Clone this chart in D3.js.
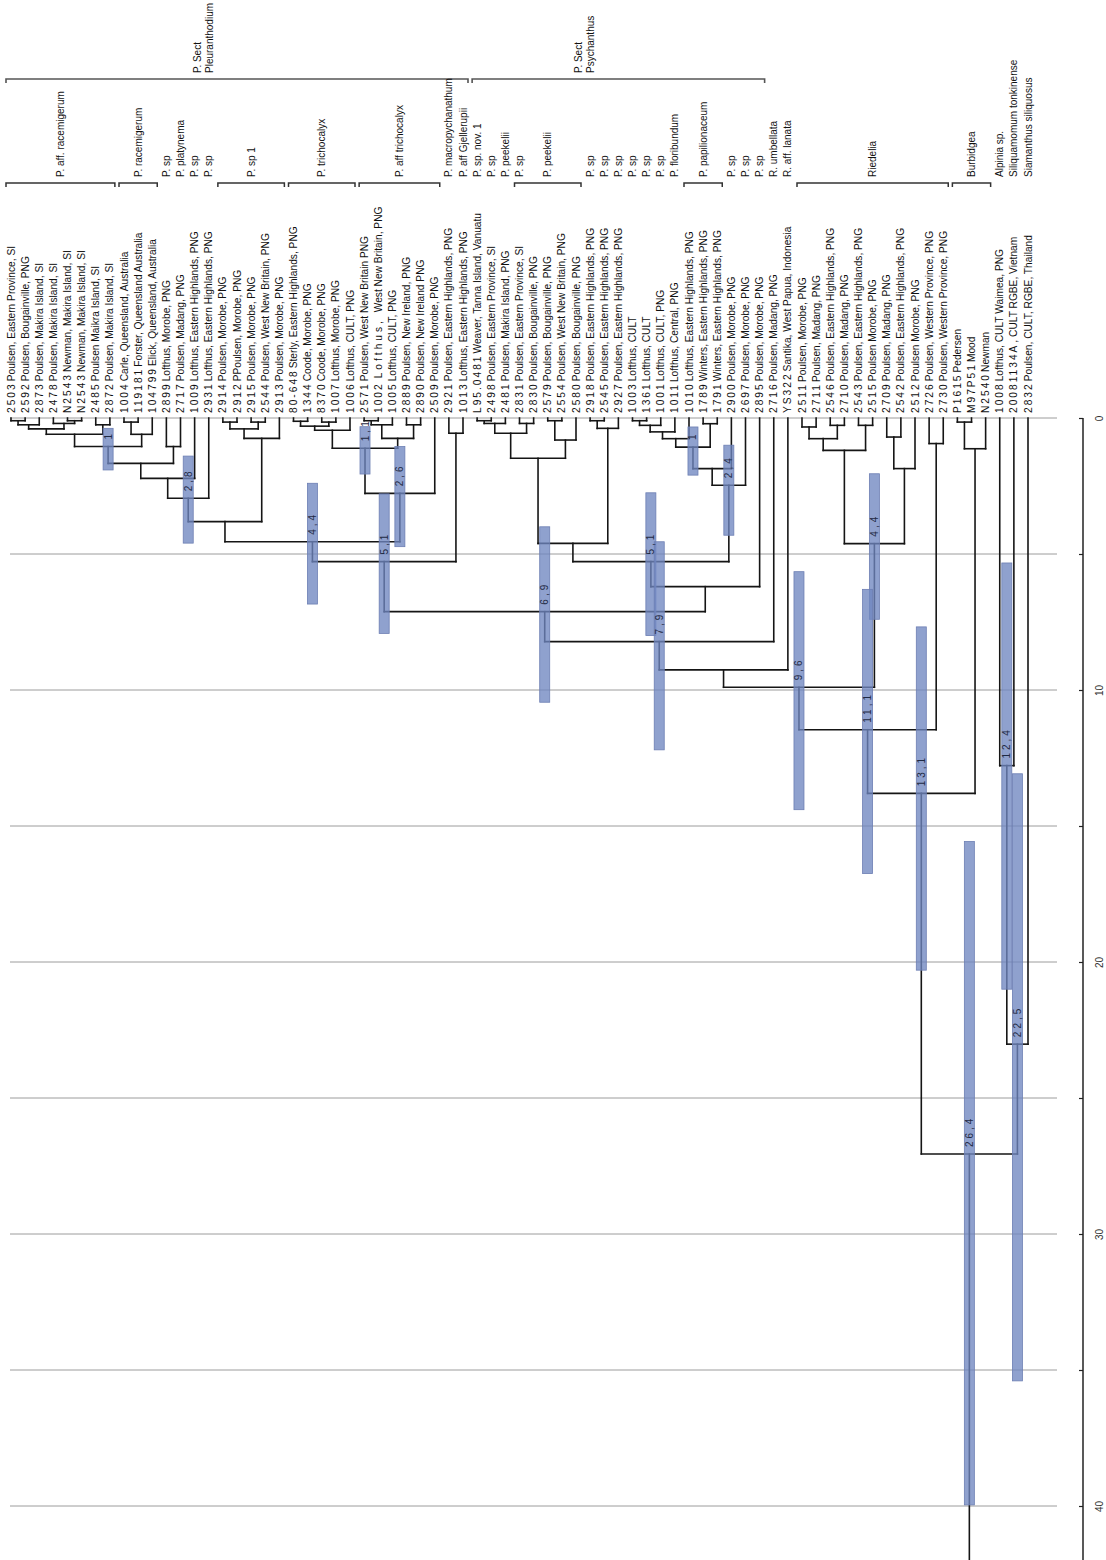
<!DOCTYPE html>
<html><head><meta charset="utf-8">
<script src="https://cdn.jsdelivr.net/npm/d3@7"></script>
<style>
body{margin:0;background:#fff}
svg{display:block;font-family:"Liberation Sans",Arial,sans-serif}
</style>
</head><body>
<svg id="c" width="1106" height="1560"></svg>
<script>
// ---------------- DATA ----------------
const tipCodes = ["2503","2592","2873","2478","N2543","N2543","2485","2872","1004","119181","104799","2899","2717","1009","2931","2914","2912","2915","2544","2913","80-648","1344","8370","1007","1006","2571","1002","1005","2889","2890","2509","2921","1013","L95.0481","2498","2481","2831","2830","2579","2554","2580","2918","2545","2927","1003","1361","1001","1011","1010","1789","1791","2900","2697","2895","2716","YS322","2511","2711","2546","2710","2543","2515","2709","2542","2512","2726","2730","P1615","M97P51","N2540","1008","20081134A","2832"];
const tipNames = ["Poulsen, Eastern Province, SI","Poulsen, Bougainville, PNG","Poulsen, Makira Island, SI","Poulsen, Makira Island, SI","Newman, Makira Island, SI","Newman, Makira Island, SI","Poulsen Maikra Island, SI","Poulsen, Makira Island, SI","Carle, Queensland, Australia","Forster, Queensland Australia","Elick, Queensland, Australia","Lofthus, Morobe, PNG","Poulsen, Madang, PNG","Lofthus, Eastern Highlands, PNG","Lofthus, Eastern Highlands, PNG","Poulsen, Morobe, PNG","PPoulsen, Morobe, PNG","Poulsen, Morobe, PNG","Poulsen, West New Britain, PNG","Poulsen, Morobe, PNG","Sterly, Eastern Highlands, PNG","Coode, Morobe, PNG","Coode, Morobe, PNG","Lofthus, Morobe, PNG","Lofthus, CULT, PNG","Poulsen, West New Britain PNG","Lofthus, West New Britain, PNG","Lofthus, CULT, PNG","Poulsen, New Ireland, PNG","Poulsen, New Ireland PNG","Poulsen, Morobe, PNG","Poulsen, Eastern Highlands, PNG","Lofthus, Eastern Highlands, PNG","Weaver, Tanna Island, Vanuatu","Poulsen, Eastern Province, SI","Poulsen, Makira Island, PNG","Poulsen, Eastern Province, SI","Poulsen, Bougainville, PNG","Poulsen, Bougainville, PNG","Poulsen, West New Britain, PNG","Poulsen, Bougainville, PNG","Poulsen, Eastern Highlands, PNG","Poulsen, Eastern Highlands, PNG","Poulsen, Eastern Highlands, PNG","Lofthus, CULT","Lofthus, CULT","Lofthus, CULT, PNG","Lofthus, Central, PNG","Lofthus, Eastern Highlands, PNG","Winters, Eastern Highlands, PNG","Winters, Eastern Highlands, PNG","Poulsen, Morobe, PNG","Poulsen, Morobe, PNG","Poulsen, Morobe, PNG","Poulsen, Madang, PNG","Santika, West Papua, Indonesia","Poulsen, Morobe, PNG","Poulsen, Madang, PNG","Poulsen, Eastern Highlands, PNG","Poulsen, Madang, PNG","Poulsen, Eastern Highlands, PNG","Poulsen Morobe, PNG","Poulsen, Madang, PNG","Poulsen, Eastern Highlands, PNG","Poulsen Morobe, PNG","Poulsen, Western Province, PNG","Poulsen, Western Province, PNG","Pedersen","Mood","Newman","Lofthus, CULT Waimea, PNG",", CULT RGBE, Vietnam","Poulsen, CULT, RGBE, Thailand"];
const spacedNameTips = [27];

// internal nodes: [id, child A, child B, age (Myr)]; numbers are tip numbers (1-based)
const nodes = [
  ["p12",1,2,0.1],["p123","p12",3,0.25],["p56",5,6,0.1],["p456",4,"p56",0.2],["p1_6","p123","p456",0.4],
  ["p78",7,8,0.25],["p1_8","p1_6","p78",0.6],["r910",9,10,0.15],["r9_11","r910",11,0.6],
  ["N1a","p1_8","r9_11",1.05],["p1213",12,13,1.05],["q1","N1a","p1213",1.67],["q2","q1",14,2.22],
  ["N28","q2",15,2.95],["s1617",16,17,0.15],["s1819",18,19,0.15],["s16_19","s1617","s1819",0.4],
  ["s16_20","s16_19",20,0.75],["q3","N28","s16_20",3.81],["t2122",21,22,0.12],["t2324",23,24,0.15],
  ["t21_24","t2122","t2324",0.3],["t21_25","t21_24",25,0.45],["a2627",26,27,0.1],["a26_28","a2627",28,0.25],
  ["a2930",29,30,0.25],["a26_30","a26_28","a2930",0.75],["N11","t21_25","a26_30",1.11],["N26","N11",31,2.77],
  ["N44a","q3","N26",4.55],["p3233",32,33,0.56],["N51a","N44a","p3233",5.28],
  ["b3435",34,35,0.1],["b34_36","b3435",36,0.2],["b3738",37,38,0.2],["b34_38","b34_36","b3738",0.56],
  ["b3940",39,40,0.1],["b39_41","b3940",41,0.81],["b34_41","b34_38","b39_41",1.48],
  ["c4243",42,43,0.1],["c42_44","c4243",44,0.38],["c34_44","b34_41","c42_44",4.61],
  ["d4546",45,46,0.1],["d45_47","d4546",47,0.27],["d45_48","d45_47",48,0.51],["d45_49","d45_48",49,0.76],
  ["d5051",50,51,0.21],["N1b","d45_49","d5051",1.07],["d52","N1b",52,1.86],["N24","d52",53,2.47],
  ["N51b","c34_44","N24",5.28],["e54","N51b",54,6.2],["N69","N51a","e54",7.12],["N79","N69",55,8.22],
  ["f56","N79",56,9.26],
  ["g5758",57,58,0.33],["g5960",59,60,0.27],["g57_60","g5758","g5960",0.76],["g6162",61,62,0.27],
  ["g57_62","g57_60","g6162",1.19],["g6364",63,64,0.7],["g63_65","g6364",65,1.86],["N44b","g57_62","g63_65",4.62],
  ["N96","f56","N44b",9.9],["h6667",66,67,0.94],["N111","N96","h6667",11.46],
  ["i6869",68,69,0.15],["i68_70","i6869",70,1.13],["N131","N111","i68_70",13.8],
  ["j7172",71,72,12.78],["N225","j7172",73,23.02],["N264","N131","N225",27.06]
];

// node-age 95% HPD bars: [node, low, high, label]
const hpdBars = [
  ["N1a",0.38,1.91,"1"],["N28",1.4,4.6,"2,8"],["N11",0.32,2.06,"1,1"],["N26",1.05,4.73,"2,6"],
  ["N44a",2.4,6.84,"4,4"],["N51a",2.79,7.92,"5,1"],["N69",4.0,10.45,"6,9"],["N51b",2.75,8.0,"5,1"],
  ["N79",4.55,12.2,"7,9"],["N1b",0.33,2.1,"1"],["N24",1.0,4.31,"2,4"],["N96",5.65,14.4,"9,6"],
  ["N44b",2.05,7.4,"4,4"],["N111",6.3,16.75,"11,1"],["N131",7.68,20.3,"13,1"],["j7172",5.33,21.0,"12,4"],
  ["N225",13.08,35.4,"22,5"],["N264",15.57,39.96,"26,4"]
];

// annotation brackets
const sectionBrackets = [["P. Sect","Pleuranthodium",1,33],["P. Sect","Psychanthus",34,54]];
const cladeBrackets = [["P. aff. racemigerum",1,8],["P. racemigerum",9,11],["P. sp 1",16,20],["P. trichocalyx",21,25],
  ["P. aff trichocalyx",26,31],["P. peekelii",37,41],["P. papilionaceum",49,51],["Riedelia",57,67],["Burbidgea",68,70]];
const singleTaxa = [[12,"P. sp"],[13,"P. platynema"],[14,"P. sp"],[15,"P. sp"],
  [32,"P. macropychanathum"],[33,"P. aff Gjellerupii"],[34,"P. sp. nov. 1"],[35,"P. sp"],[36,"P. peekelii"],[37,"P. sp"],
  [42,"P. sp"],[43,"P. sp"],[44,"P. sp"],[45,"P. sp"],[46,"P. sp"],[47,"P. sp"],[48,"P. floribundum"],
  [52,"P. sp"],[53,"P. sp"],[54,"P. sp"],[55,"R. umbellata"],[56,"R. aff. lanata"],
  [71,"Alpinia sp."],[72,"Siliquamomum tonkinense"],[73,"Siamanthus siliquosus"]];

const axisTicks = [0,5,10,15,20,25,30,35,40];
const axisLabels = ["0","10","20","30","40"];

// ---------------- DRAW ----------------
const svg = d3.select("#c");
const x = d3.scaleLinear().domain([1,73]).range([11,1028]);
const y = d3.scaleLinear().domain([0,40]).range([418,1506]);

const pos = {};
tipCodes.forEach((c,i)=>{ pos[i+1] = {x:x(i+1), age:0}; });
nodes.forEach(([id,a,b,age])=>{ pos[id] = {x:(pos[a].x+pos[b].x)/2, age}; });

// gridlines
svg.append("g").selectAll("line").data(axisTicks).join("line")
  .attr("x1",10).attr("x2",1057).attr("y1",d=>y(d)).attr("y2",d=>y(d))
  .attr("stroke","#9c9c9c").attr("stroke-width",1);

// axis
const ax = d3.axisRight(y).tickValues(axisTicks).tickSize(-4).tickPadding(0)
  .tickFormat(d=> axisLabels.includes(String(d)) ? String(d) : "");
const ag = svg.append("g").attr("transform","translate(1083,0)").call(ax);
ag.select(".domain").remove();
ag.append("line").attr("x1",0).attr("x2",0).attr("y1",y(0)).attr("y2",1560).attr("stroke","#222").attr("stroke-width",1.5);
ag.selectAll(".tick line").attr("stroke","#222").attr("stroke-width",1.2);
ag.selectAll(".tick text").attr("x",0).attr("y",0).attr("dy","0.35em")
  .attr("text-anchor","middle").attr("transform","translate(16,0) rotate(-90)")
  .attr("font-size",10).attr("fill","#333").attr("font-family","Liberation Sans, Arial, sans-serif");

// branches
const segs = [];
nodes.forEach(([id,a,b,age])=>{
  segs.push([pos[a].x, y(age), pos[b].x, y(age)]);
  [a,b].forEach(k=> segs.push([pos[k].x, y(pos[k].age), pos[k].x, y(age)]));
});
const rootId = nodes[nodes.length-1][0];
segs.push([pos[rootId].x, y(pos[rootId].age), pos[rootId].x, 1560]);
svg.append("g").selectAll("line").data(segs).join("line")
  .attr("x1",d=>d[0]).attr("y1",d=>d[1]).attr("x2",d=>d[2]).attr("y2",d=>d[3])
  .attr("stroke","#151515").attr("stroke-width",1.6).attr("stroke-linecap","square");

// HPD bars
const bw = 10;
svg.append("g").selectAll("rect").data(hpdBars).join("rect")
  .attr("x",d=>pos[d[0]].x-bw/2).attr("width",bw)
  .attr("y",d=>y(d[1])).attr("height",d=>y(d[2])-y(d[1]))
  .attr("fill","rgb(112,134,192)").attr("fill-opacity",0.78)
  .attr("stroke","#6d7fb3").attr("stroke-width",0.8);
svg.append("g").selectAll("text").data(hpdBars).join("text")
  .attr("transform",d=>`translate(${pos[d[0]].x},${y(pos[d[0]].age)-7}) rotate(-90)`)
  .attr("dy","0.35em").attr("font-size",10).attr("letter-spacing",3).attr("fill","#1f2a44")
  .text(d=>d[3]);

// tip labels
const tl = svg.append("g").selectAll("text").data(tipCodes).join("text")
  .attr("transform",(d,i)=>`translate(${x(i+1)},413) rotate(-90)`)
  .attr("dy","0.35em").attr("font-size",10.2).attr("fill","#111");
tl.append("tspan").attr("letter-spacing",2).text(d=>d);
tl.each(function(d,i){
  const t = d3.select(this), name = tipNames[i];
  if (spacedNameTips.includes(i+1)) {
    const k = name.indexOf(",")+1;
    t.append("tspan").attr("dx",4).attr("letter-spacing",3).text(name.slice(0,k));
    t.append("tspan").attr("dx",3).text(name.slice(k));
  } else {
    t.append("tspan").attr("dx",1).text(name);
  }
});

// annotation brackets
const bracketPath = (x1,x2,yy)=>`M${x1},${yy+4}V${yy}H${x2}V${yy+4}`;
const ann = svg.append("g").attr("font-size",10).attr("fill","#111");
sectionBrackets.forEach(([l1,l2,a,b])=>{
  const x1 = x(a)-5, x2 = x(b)+5, cx = (x1+x2)/2;
  ann.append("path").attr("d",bracketPath(x1,x2,79)).attr("fill","none").attr("stroke","#555").attr("stroke-width",1.6);
  ann.append("text").attr("transform",`translate(${cx-40},73) rotate(-90)`).attr("dy","0.35em").text(l1);
  ann.append("text").attr("transform",`translate(${cx-28},73) rotate(-90)`).attr("dy","0.35em").text(l2);
});
cladeBrackets.forEach(([lab,a,b])=>{
  const x1 = x(a)-5, x2 = x(b)+5, cx = (x1+x2)/2;
  ann.append("path").attr("d",bracketPath(x1,x2,183)).attr("fill","none").attr("stroke","#333").attr("stroke-width",1.5);
  ann.append("text").attr("transform",`translate(${cx},177) rotate(-90)`).attr("dy","0.35em").text(lab);
});
singleTaxa.forEach(([t,lab])=>{
  ann.append("text").attr("transform",`translate(${x(t)},177) rotate(-90)`).attr("dy","0.35em").text(lab);
});
</script>
</body></html>
